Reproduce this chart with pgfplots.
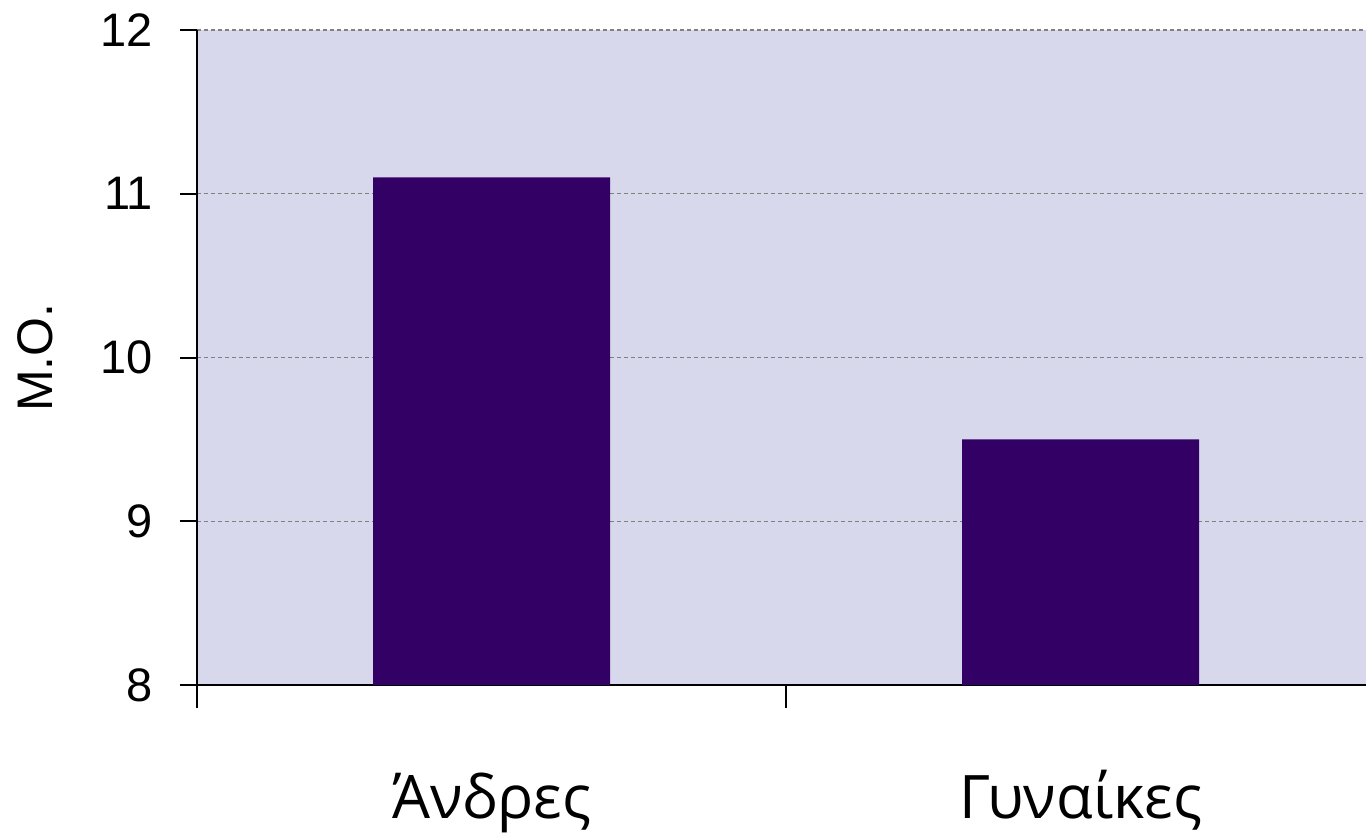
\documentclass[border=0pt]{standalone}
\usepackage{fontspec}
\setmainfont{Liberation Sans}
\newfontfamily\catfont{Open Sans}
\usepackage{pgfplots}
\pgfplotsset{compat=1.18}
\definecolor{bgc}{RGB}{216,216,236}
\definecolor{barc}{RGB}{51,0,102}
\begin{document}
\begin{tikzpicture}
\begin{axis}[
  at={(0pt,0pt)}, anchor=south west,
  scale only axis, width=584.5pt, height=327.5pt,
  xmin=0, xmax=1.9847, ymin=8, ymax=12,
  axis x line*=bottom, axis y line*=left,
  axis line style={black, line width=1pt},
  axis background/.style={fill=bgc},
  tick align=outside,
  major tick length=8.5pt,
  minor tick length=11.5pt,
  tick style={black, line width=1pt},
  ytick={8,9,10,11,12},
  xtick={0.5,1.5}, xticklabels={Άνδρες,Γυναίκες},
  minor xtick={0,1},
  major x tick style={draw=none},
  xticklabel style={font=\catfont\fontsize{30pt}{36pt}\selectfont, anchor=base, yshift=-58pt},
  ymajorgrids,
  grid style={gray, line width=0.6pt, dash pattern=on 2pt off 1.5pt},
  yticklabel style={font=\fontsize{23.5pt}{28pt}\selectfont, xshift=-10pt},
  /pgf/number format/assume math mode=true,
  ylabel={Μ.Ο.},
  ylabel style={font=\fontsize{25pt}{30pt}\selectfont, at={(axis description cs:-0.1386,0.5)}, anchor=center},
  ybar, bar width=118.5pt,
]
\addplot[fill=barc, draw=none] coordinates {(0.5,11.1) (1.5,9.5)};
\end{axis}
\pgfresetboundingbox
\path[use as bounding box] (-98.5pt,-75pt) rectangle (584.5pt,342.5pt);
\end{tikzpicture}
\end{document}
